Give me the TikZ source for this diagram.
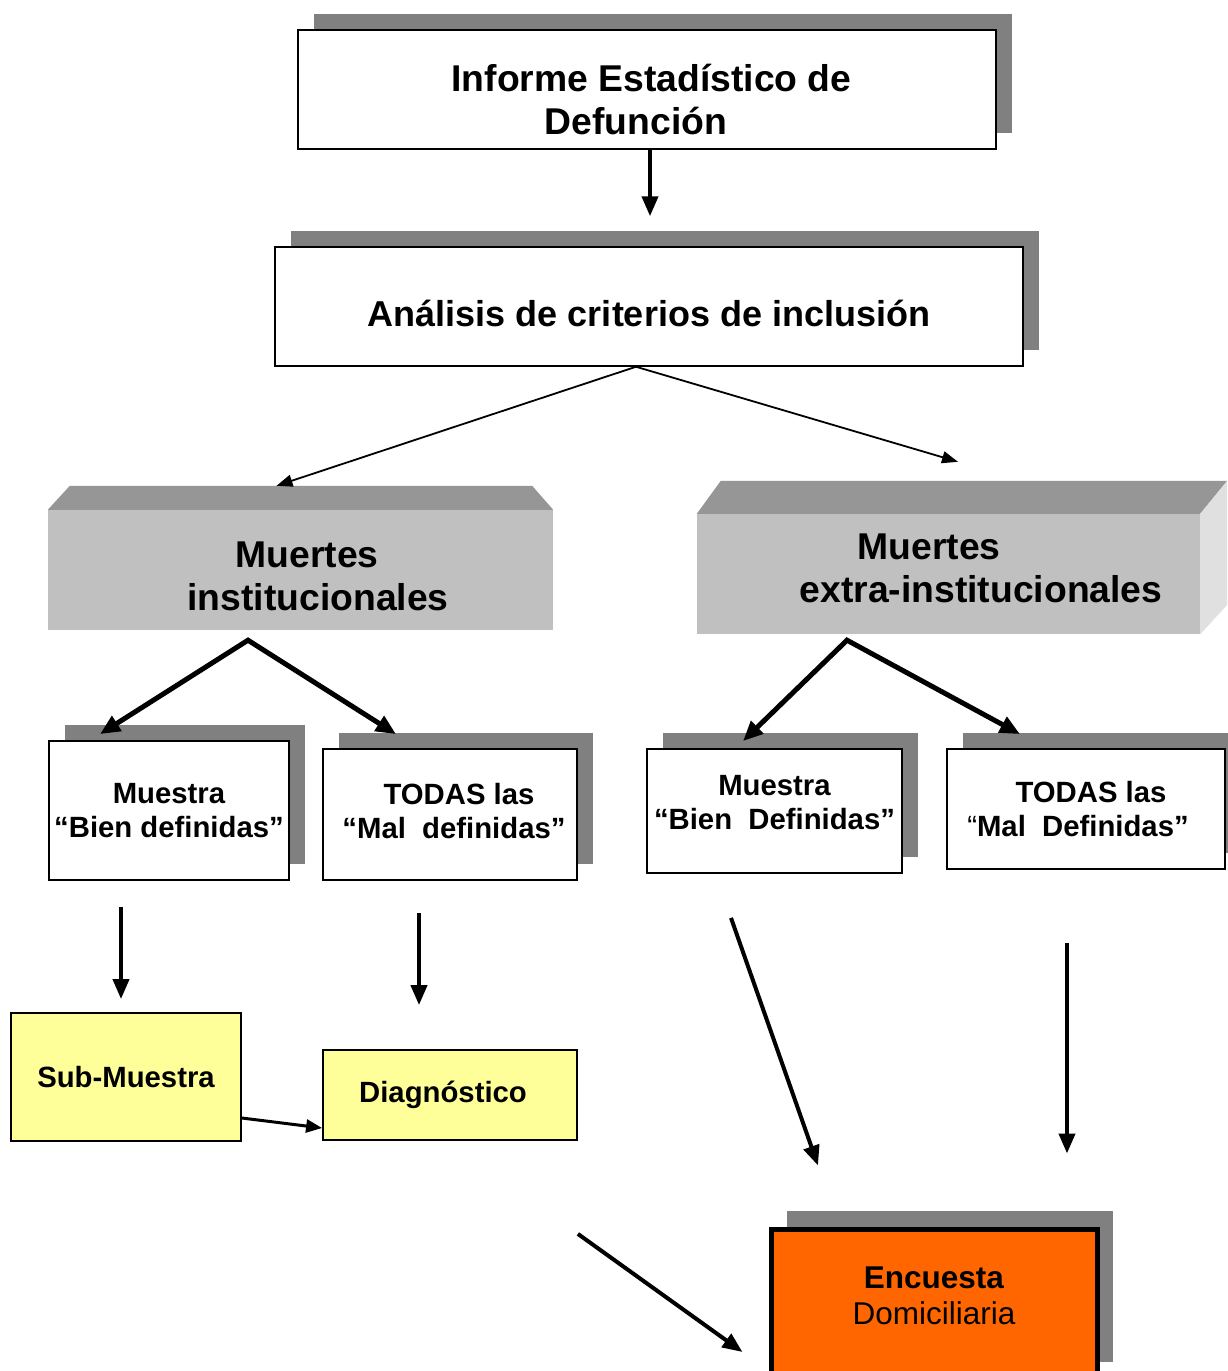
\documentclass[tikz,border=0pt]{standalone}
\usepackage{fontspec}
\setmainfont{Liberation Sans}
\usepackage{tikz}
\usetikzlibrary{arrows.meta,shadows}
\definecolor{sombra}{HTML}{808080}
\definecolor{frente}{HTML}{C0C0C0}
\definecolor{tapa}{HTML}{969696}
\definecolor{lado}{HTML}{E0E0E0}
\definecolor{amarillo}{HTML}{FFFF99}
\definecolor{naranjo}{HTML}{FF6600}
\newcommand{\grande}{\fontsize{36}{43}\selectfont\bfseries}
\newcommand{\mayor}{\fontsize{37.3}{43}\selectfont\bfseries}
\newcommand{\chica}{\fontsize{29.3}{34}\selectfont\bfseries}
\newcommand{\media}{\fontsize{31.5}{36}\selectfont}
\tikzset{
  caja/.style={draw=black,line width=1.5pt,fill=white,align=center,inner sep=0pt,font=\grande,
    drop shadow={shadow xshift=16pt,shadow yshift=16pt,opacity=1,fill=sombra}},
  cajita/.style={caja,line width=1.8pt,font=\chica},
  cara/.style={fill=frente,draw=none,inner sep=0pt},
  rotulo/.style={align=center,inner sep=0pt,font=\mayor},
  amarilla/.style={draw=black,line width=1.8pt,fill=amarillo,align=center,inner sep=0pt,font=\chica},
  naranja/.style={draw=black,line width=5pt,fill=naranjo,inner sep=0pt,
    drop shadow={shadow xshift=16pt,shadow yshift=18pt,opacity=1,fill=sombra}},
  fl/.style={-{Triangle[length=20pt,width=16pt]},line width=4pt},
  dosfl/.style={{Triangle[length=20pt,width=17pt]}-{Triangle[length=20pt,width=17pt]},line width=5pt,line join=miter},
  fina/.style={{Triangle[length=16pt,width=12pt]}-{Triangle[length=16pt,width=12pt]},line width=1.8pt,line join=miter},
  media/.style={-{Triangle[length=16pt,width=13pt]},line width=3pt},
}
\begin{document}
\begin{tikzpicture}[x=1pt,y=-1pt]
\path[use as bounding box,fill=white] (0,0) rectangle (1227,1371);
\node[caja,font=\mayor,minimum width=698pt,minimum height=119pt] (inf) at (647,89.5)
  {\rule{0pt}{48pt}\hspace*{9pt}Informe Estadístico de\\Defunción\hspace*{22pt}};
\node[caja,minimum width=748pt,minimum height=119pt] (ana) at (649,306.5) {\rule{0pt}{40pt}Análisis de criterios de inclusión};

\node[cara,minimum width=505pt,minimum height=120pt] (mi) at (300.5,570) {};
\fill[tapa] (mi.north west) -- ++(22,-24) -- ([xshift=-21pt,yshift=24pt]mi.north east) -- (mi.north east) -- cycle;
\node[rotulo] (mi-txt) at (307,576.5) {Muertes\\\hspace*{22pt}institucionales};

\node[cara,minimum width=503pt,minimum height=120pt] (me) at (948.5,574) {};
\fill[tapa] (me.north west) -- ++(24,-33) -- ([xshift=27pt,yshift=33pt]me.north east) -- (me.north east) -- cycle;
\fill[lado] (me.north east) -- ++(27,-33) -- ++(0,124) -- (me.south east) -- cycle;
\node[rotulo] (me-txt) at (929,568.5) {Muertes\\\hspace*{104pt}extra-institucionales};

\foreach \name/\x/\y/\w/\h/\txt in {
  bienI/169/810.5/240/139/{Muestra\\“Bien definidas”},
  malI/450/814.5/254/131/{\hspace*{18pt}TODAS las\\\hspace*{8pt}“Mal\ \ definidas”\rule[-8pt]{0pt}{8pt}},
  bienE/774.5/811/255/124/{Muestra\\“Bien\ \ Definidas”\rule[-18pt]{0pt}{18pt}},
  malE/1086/809/278/120/{\hspace*{10pt}TODAS las\\{\mdseries“}Mal\ \ Definidas”\hspace*{16pt}}} {
  \node[cajita,minimum width=\w pt,minimum height=\h pt] (\name) at (\x,\y) {\txt};
}

\node[amarilla,minimum width=230pt,minimum height=128pt] (sub) at (126,1077) {Sub-Muestra};
\node[amarilla,minimum width=254pt,minimum height=90pt] (diag) at (450,1095) {Diagnóstico\hspace*{14pt}};
\node[naranja,minimum width=326pt,minimum height=151pt] (enc) at (934,1304.5) {};
\node[align=center,inner sep=0pt,font=\media] (enc-txt) at (934,1296) {\textbf{Encuesta}\\Domiciliaria};

\draw[fl] ([xshift=3pt]inf.south) -- ([xshift=1pt,yshift=30pt]ana.north);
\draw[fina] ([xshift=-24pt,yshift=24pt]mi.north) -- ([xshift=-13pt]ana.south) -- ([xshift=9.5pt,yshift=52pt]me.north);
\draw[dosfl] ([xshift=-69pt,yshift=6pt]bienI.north) -- ([xshift=-52.5pt,yshift=-10pt]mi.south) -- ([xshift=-54pt,yshift=14pt]malI.north);
\draw[dosfl] ([xshift=-31.5pt,yshift=7pt]bienE.north) -- ([xshift=-101.5pt,yshift=-6pt]me.south) -- ([xshift=-66pt,yshift=14pt]malE.north);
\draw[fl] ([xshift=-48pt,yshift=-26pt]bienI.south) -- ([xshift=-5pt,yshift=13pt]sub.north);
\draw[fl] ([xshift=-31pt,yshift=-32pt]malI.south) -- ([xshift=-31pt,yshift=44pt]diag.north);
\draw[fl] ([xshift=-43.5pt,yshift=-44pt]bienE.south) -- ([xshift=-116pt,yshift=61pt]enc.north);
\draw[fl] ([xshift=-19pt,yshift=-73pt]malE.south) -- ([xshift=133pt,yshift=73pt]enc.north);
\draw[media] ([yshift=-41pt]sub.east) -- ([yshift=-33pt]diag.west);
\draw[fl] ([yshift=-93pt]diag.south east) -- ([xshift=-26pt,yshift=-47.5pt]enc.west);
\end{tikzpicture}
\end{document}
